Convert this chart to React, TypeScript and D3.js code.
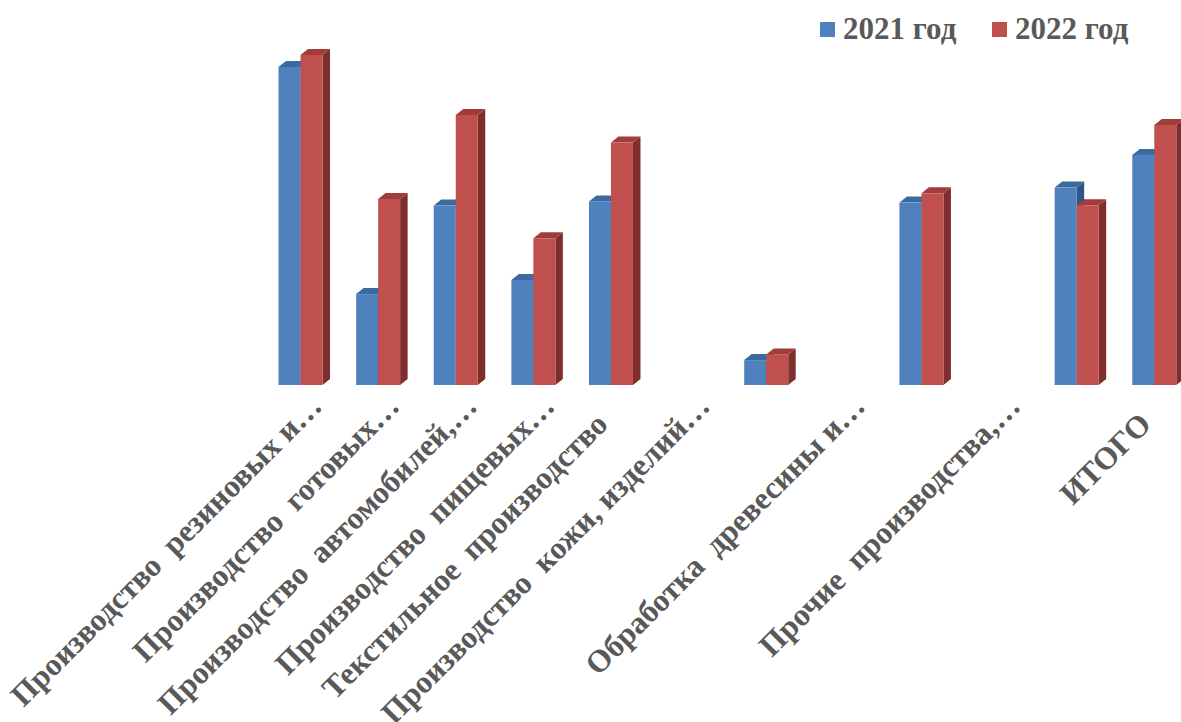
import React from "react";
import * as d3 from "d3";

const categories = [
  "Производство  резиновых и…",
  "Производство  готовых…",
  "Производство  автомобилей,…",
  "Производство  пищевых…",
  "Текстильное  производство",
  "Производство  кожи, изделий…",
  "",
  "Обработка  древесины и…",
  "",
  "Прочие  производства,…",
  "",
  "ИТОГО",
];
const seriesNames = ["2021 год", "2022 год"];
const values2021 = [106, 30.3, 59.8, 35, 61.2, 0, 8.3, 0, 60.8, 0, 65.8, 76.7];
const values2022 = [110, 62, 90, 48.9, 80.8, 0, 10.2, 0, 63.9, 0, 59.9, 86.7];

const W = 1181;
const H = 722;
const palette = [
  { front: "#4F81BD", top: "#3B6A9E", side: "#2E5585" },
  { front: "#C0504D", top: "#A03C39", side: "#7E2F2D" },
];
const DX = 7.5;
const DY = 6;
const FONT = "'Liberation Serif', 'Times New Roman', serif";

export default function App() {
  const idx = d3.range(categories.length);
  const x = d3
    .scaleBand<number>()
    .domain(idx)
    .range([261.7, 1193.1])
    .paddingInner(0.433)
    .paddingOuter(0.2165);
  const xs = d3.scaleBand<number>().domain([0, 1]).range([0, x.bandwidth()]);
  const y = d3.scaleLinear().domain([0, 120]).range([385, 25]);
  const series = [values2021, values2022];

  const bars: React.ReactNode[] = [];
  idx.forEach((i) => {
    series.forEach((vals, s) => {
      const v = vals[i];
      if (!v) return;
      const x0 = (x(i) as number) + (xs(s) as number);
      const w = xs.bandwidth();
      const yt = y(v);
      const yb = y(0);
      const c = palette[s];
      bars.push(
        <g key={`${i}-${s}`}>
          <polygon
            points={`${x0 + w},${yt} ${x0 + w + DX},${yt - DY} ${x0 + w + DX},${yb - DY} ${x0 + w},${yb}`}
            fill={c.side}
          />
          <polygon
            points={`${x0},${yt} ${x0 + DX},${yt - DY} ${x0 + w + DX},${yt - DY} ${x0 + w},${yt}`}
            fill={c.top}
          />
          <rect x={x0} y={yt} width={w} height={yb - yt} fill={c.front} />
        </g>
      );
    });
  });

  return (
    <svg
      width={W}
      height={H}
      style={{ position: "absolute", left: 0, top: 0, background: "#fff" }}
    >
      <rect x={0} y={0} width={W} height={H} fill="#fff" />
      {bars}
      {categories.map((label, i) => {
        if (!label) return null;
        const c = (x(i) as number) + x.bandwidth() / 2;
        const trunc = label.endsWith("…");
        const ax = trunc ? c + 23 : c - 1.5;
        const ay = trunc ? 408 : 426;
        return (
          <text
            key={i}
            transform={`translate(${ax},${ay}) rotate(-45)`}
            textAnchor="end"
            fontFamily={FONT}
            fontWeight="bold"
            fontSize={31.5}
            fill="#595959"
            style={{ whiteSpace: "pre" }}
          >
            {label}
          </text>
        );
      })}
      {seriesNames.map((name, s) => {
        const lx = 820 + s * 172;
        return (
          <g key={name}>
            <rect x={lx} y={22} width={15} height={15} fill={palette[s].front} />
            <text
              x={lx + 23}
              y={39}
              fontFamily={FONT}
              fontWeight="bold"
              fontSize={31}
              fill="#595959"
            >
              {name}
            </text>
          </g>
        );
      })}
    </svg>
  );
}
